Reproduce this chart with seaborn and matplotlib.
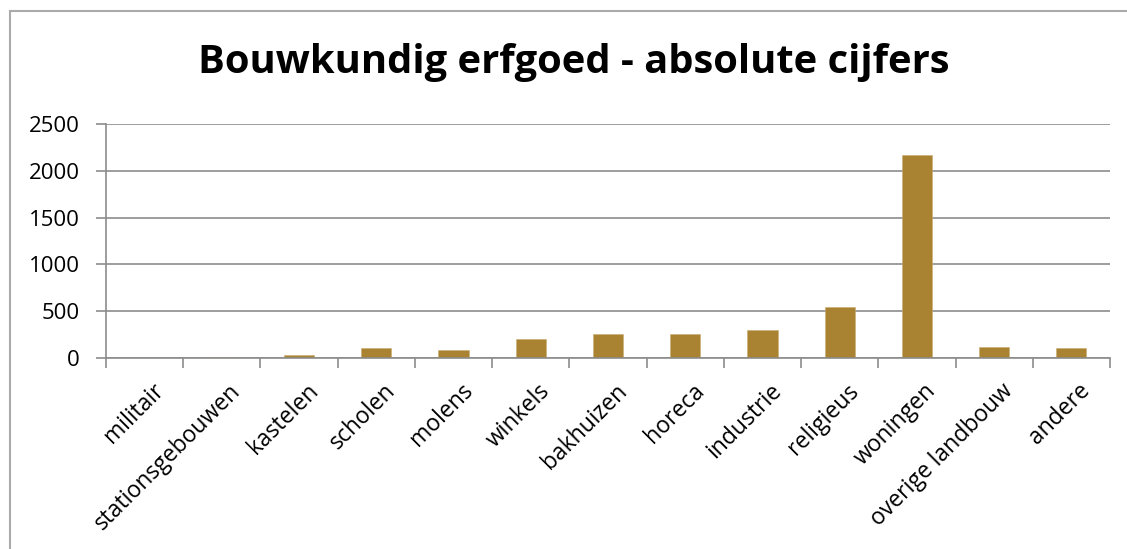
import matplotlib
matplotlib.use("Agg")
import matplotlib.pyplot as plt
import matplotlib.transforms as mtransforms
import seaborn as sns
import pandas as pd
import numpy as np
from matplotlib.patches import Rectangle
from matplotlib.ticker import FixedLocator

categories = ["militair", "stationsgebouwen", "kastelen", "scholen", "molens", "winkels",
              "bakhuizen", "horeca", "industrie", "religieus", "woningen",
              "overige landbouw", "andere"]
values = [0, 15, 30, 105, 85, 200, 258, 258, 298, 545, 2165, 115, 105]
yticks = [0, 500, 1000, 1500, 2000, 2500]
title = "Bouwkundig erfgoed - absolute cijfers"

sns.set_theme(style="white")
plt.rcParams['font.family'] = ['Open Sans', 'DejaVu Sans']
plt.rcParams['text.color'] = 'black'
plt.rcParams['xtick.color'] = 'black'
plt.rcParams['ytick.color'] = 'black'

df = pd.DataFrame({"cat": categories, "val": values})

fig = plt.figure(figsize=(11.27, 5.49), dpi=100)
ax = fig.add_axes([106/1127, 1-358/549, (1110-106)/1127, (358-124)/549])
sns.barplot(data=df, x="cat", y="val", color="#A98232", width=0.39, ax=ax,
            saturation=1, edgecolor="#C9AE70", linewidth=0.4)

ax.set_ylim(0, 2500)
ax.set_xlim(-0.5, len(categories) - 0.5)
ax.set_yticks(yticks)
ax.set_yticklabels([str(v) for v in yticks], fontsize=16)
ax.yaxis.grid(True, color="#8c8c8c", linewidth=1.2)
ax.set_axisbelow(True)
ax.set_xlabel("")
ax.set_ylabel("")
for s in ["top", "right"]:
    ax.spines[s].set_visible(False)
for s in ["left", "bottom"]:
    ax.spines[s].set_color("#8c8c8c")
    ax.spines[s].set_linewidth(1.2)

ax.tick_params(axis="y", which="major", left=True, length=7, width=1.2, color="#8c8c8c",
               labelcolor="black", pad=12)
ax.tick_params(axis="x", which="major", bottom=False, pad=9, labelcolor="black")
ax.xaxis.set_minor_locator(FixedLocator(np.arange(-0.5, len(categories), 1.0)))
ax.tick_params(axis="x", which="minor", bottom=True, length=7, width=1.2, color="#8c8c8c")
ax.set_xticks(range(len(categories)))
ax.set_xticklabels(categories, rotation=45, ha="right", rotation_mode="anchor", fontsize=16.5)
offset = mtransforms.ScaledTranslation(7/100, 0, fig.dpi_scale_trans)
for lbl in ax.get_xticklabels():
    lbl.set_transform(lbl.get_transform() + offset)

fig.text(0.509, 1-62/549, title, ha="center", va="center", fontsize=28.7, fontweight="bold",
         color="black")

fig.patches.append(Rectangle((10/1127, -0.05), 1.2, 1-11/549 + 0.05, transform=fig.transFigure,
                             fill=False, edgecolor="#aaaaaa", linewidth=1.5))

fig.savefig("out.png", dpi=100)
